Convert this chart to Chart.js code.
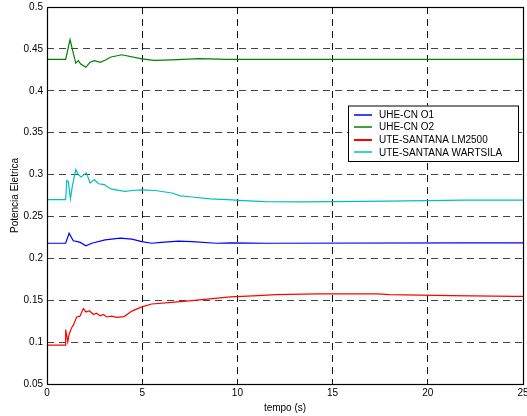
<!DOCTYPE html>
<html>
<head>
<meta charset="utf-8">
<script src="https://cdn.jsdelivr.net/npm/chart.js@4/dist/chart.umd.min.js"></script>
<style>
  body { margin: 0; background: #fff; }
  canvas { display: block; }
</style>
</head>
<body>
<canvas id="grafico" width="527" height="416"></canvas>
<script>
// series labels
const seriesNames = ['UHE-CN O1', 'UHE-CN O2', 'UTE-SANTANA LM2500', 'UTE-SANTANA WARTSILA'];
const seriesColors = ['#0000ff', '#008000', '#ff0000', '#00bfbf'];

// UHE-CN O1 (blue)
const tempoO1 = [0, 0.98, 1.16, 1.38, 1.6, 1.75, 2.04, 2.35, 3.05, 3.84, 4.46, 4.98, 5.5, 6.0, 6.9, 7.6, 8.9, 9.7, 11.6, 22, 25];
const potO1 = [0.218, 0.218, 0.230, 0.221, 0.220, 0.219, 0.215, 0.218, 0.222, 0.224, 0.223, 0.220, 0.218, 0.219, 0.2205, 0.220, 0.218, 0.2185, 0.218, 0.2185, 0.2185];

// UHE-CN O2 (green)
const tempoO2 = [0, 0.98, 1.21, 1.51, 1.65, 1.77, 2.04, 2.26, 2.49, 2.8, 3.1, 3.32, 3.93, 4.98, 5.6, 6.56, 8.0, 9.5, 25];
const potO2 = [0.4375, 0.4375, 0.461, 0.433, 0.436, 0.432, 0.428, 0.434, 0.436, 0.434, 0.437, 0.440, 0.443, 0.438, 0.4364, 0.437, 0.4384, 0.4375, 0.4375];

// UTE-SANTANA LM2500 (red)
const tempoLM = [0, 0.95, 0.98, 1.09, 1.17, 1.3, 1.38, 1.56, 1.73, 1.91, 2.05, 2.23, 2.44, 2.6, 2.79, 2.96, 3.14, 3.4, 3.67, 4.05, 4.46, 4.98, 5.5, 6.56, 7.6, 9.63, 11.1, 12.0, 14.2, 17.35, 18, 21.2, 24.6, 25];
const potLM = [0.0965, 0.0965, 0.115, 0.1003, 0.110, 0.1175, 0.120, 0.130, 0.131, 0.140, 0.136, 0.1375, 0.133, 0.1345, 0.1315, 0.133, 0.130, 0.131, 0.1295, 0.1305, 0.137, 0.142, 0.1455, 0.1475, 0.1495, 0.1541, 0.1556, 0.1567, 0.1575, 0.1575, 0.1567, 0.1556, 0.1545, 0.1545];

// UTE-SANTANA WARTSILA (cyan)
const tempoWS = [0, 0.98, 1.04, 1.12, 1.23, 1.33, 1.51, 1.65, 1.79, 2.07, 2.26, 2.49, 2.7, 3.02, 3.12, 3.4, 3.93, 4.1, 4.46, 4.98, 5.68, 6.56, 7.0, 7.5, 8.58, 9.72, 10.3, 11.47, 13.5, 17.9, 21.9, 25];
const potWS = [0.270, 0.270, 0.293, 0.292, 0.271, 0.286, 0.306, 0.300, 0.297, 0.302, 0.290, 0.294, 0.289, 0.288, 0.286, 0.2825, 0.2805, 0.280, 0.281, 0.2817, 0.281, 0.278, 0.2745, 0.2735, 0.271, 0.2698, 0.269, 0.2678, 0.2674, 0.2682, 0.2694, 0.2694];

// axis ticks
const xTicks = [0, 5, 10, 15, 20, 25];
const yTicks = [0.05, 0.1, 0.15, 0.2, 0.25, 0.3, 0.35, 0.4, 0.45, 0.5];

const seriesTimes = [tempoO1, tempoO2, tempoLM, tempoWS];
const seriesValues = [potO1, potO2, potLM, potWS];

Chart.defaults.font.family = '"Liberation Sans", Arial, sans-serif';
Chart.defaults.font.size = 10;
Chart.defaults.color = '#000';

// frame round the plot area (MATLAB style box)
const framePlugin = {
    id: 'frame',
    afterDatasetsDraw(chart) {
        const a = chart.chartArea;
        const ctx = chart.ctx;
        ctx.save();
        ctx.strokeStyle = '#000';
        ctx.lineWidth = 1.2;
        ctx.strokeRect(Math.round(a.left) + 0.5, Math.round(a.top) + 0.5,
            Math.round(a.right - a.left), Math.round(a.bottom - a.top));
        ctx.restore();
    }
};

// legend box inside the plot
const legendBoxPlugin = {
    id: 'legendBox',
    afterDraw(chart) {
        const ctx = chart.ctx;
        const bx = 348, by = 105.5, bw = 170, bh = 55.5;
        ctx.save();
        ctx.fillStyle = '#fff';
        ctx.fillRect(bx, by, bw, bh);
        ctx.strokeStyle = '#000';
        ctx.lineWidth = 1;
        ctx.strokeRect(bx + 0.5, by + 0.5, bw, bh);
        ctx.font = '10px "Liberation Sans", Arial, sans-serif';
        ctx.textBaseline = 'middle';
        ctx.textAlign = 'left';
        chart.data.datasets.forEach((ds, i) => {
            const y = 114.5 + i * 12.6;
            ctx.strokeStyle = ds.borderColor;
            ctx.lineWidth = i === 2 ? 2 : 1.5;
            ctx.beginPath();
            ctx.moveTo(354, Math.round(y));
            ctx.lineTo(372, Math.round(y));
            ctx.stroke();
            ctx.fillStyle = '#000';
            ctx.fillText(ds.label, 379, y + 0.5);
        });
        ctx.restore();
    }
};

function fmt(v) {
    return parseFloat(Number(v).toFixed(2)).toString();
}

const datasets = seriesNames.map((name, i) => ({
    label: name,
    data: seriesTimes[i].map((t, k) => ({ x: t, y: seriesValues[i][k] })),
    borderColor: seriesColors[i],
    backgroundColor: seriesColors[i],
    borderWidth: 1.2,
    pointRadius: 0,
    tension: 0,
    fill: false
}));

new Chart(document.getElementById('grafico'), {
    type: 'line',
    data: { datasets: datasets },
    options: {
        responsive: false,
        animation: false,
        events: [],
        layout: { padding: { top: 7, right: 4, left: 0, bottom: 0 } },
        plugins: {
            legend: { display: false },
            tooltip: { enabled: false }
        },
        scales: {
            x: {
                type: 'linear',
                min: xTicks[0],
                max: xTicks[xTicks.length - 1],
                afterBuildTicks: s => { s.ticks = xTicks.map(v => ({ value: v })); },
                afterFit: s => { s.height = 32; s.paddingLeft = 0; s.paddingRight = 0; },
                ticks: { padding: 3, color: '#000', maxRotation: 0, callback: v => fmt(v) },
                grid: { color: '#111', lineWidth: 1, drawTicks: false },
                border: { display: false, dash: [7, 5] },
                title: { display: true, text: 'tempo (s)', color: '#000', padding: { top: 0, bottom: 2 } }
            },
            y: {
                type: 'linear',
                min: yTicks[0],
                max: yTicks[yTicks.length - 1],
                afterBuildTicks: s => { s.ticks = yTicks.map(v => ({ value: v })); },
                afterFit: s => { s.width = 47; s.paddingTop = 0; s.paddingBottom = 0; },
                ticks: { padding: 4, color: '#000', callback: v => fmt(v) },
                grid: { color: '#444', lineWidth: 1, drawTicks: false },
                border: { display: false, dash: [7, 5] },
                title: { display: true, text: 'Potencia Eletrica', color: '#000', padding: { top: 9, bottom: 0 } }
            }
        }
    },
    plugins: [framePlugin, legendBoxPlugin]
});
</script>
</body>
</html>
